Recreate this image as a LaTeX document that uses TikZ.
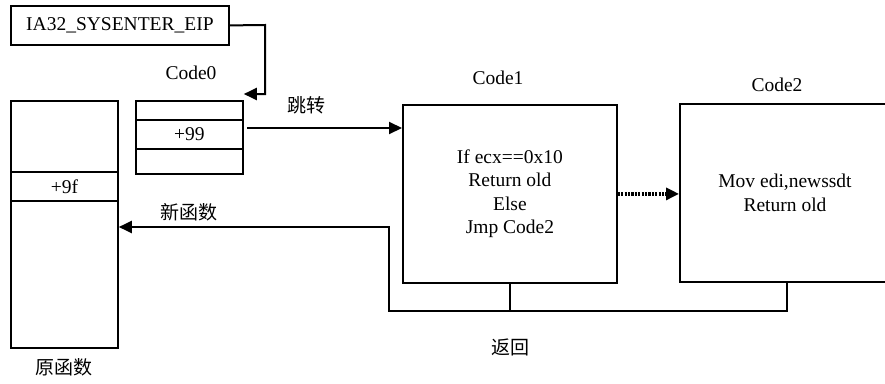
\documentclass[tikz,border=0pt]{standalone}
\usepackage{fontspec}
\setmainfont{Liberation Serif}
\newfontfamily\cjk{Noto Sans CJK SC}
\usetikzlibrary{arrows.meta,calc}
\tikzset{
  box/.style={draw, line width=1.8pt, anchor=north west, inner sep=0pt,
    minimum width=#1},
  lbl/.style={font=\fontsize{19.5}{23.5}\selectfont, inner sep=0pt},
  cjklbl/.style={font=\fontsize{19}{22}\selectfont\cjk, inner sep=0pt},
  tip/.style={-{Triangle[length=13pt,width=12pt]}},
  link/.style={line width=2pt, tip},
  plain/.style={line width=2pt},
}
\begin{document}
\begin{tikzpicture}[x=1pt,y=-1pt]
\useasboundingbox (0,0) rectangle (885,383);

% register holding the entry address
\node[box=218pt, minimum height=39pt, lbl] (msr) at (10,5) {IA32\_SYSENTER\_EIP};

% Code0 stub
\node[lbl] (c0lbl) at (191,73) {Code0};
\node[box=107pt, minimum height=19pt] (c0a) at (135,100) {};
\node[box=107pt, minimum height=29pt, lbl] (c0b) at (135,119) {+99};
\node[box=107pt, minimum height=25pt] (c0c) at (135,148) {};

% original function
\node[box=107pt, minimum height=71pt] (oa) at (10,100) {};
\node[box=107pt, minimum height=29pt, lbl] (ob) at (10,171) {+9f};
\node[box=107pt, minimum height=147pt] (oc) at (10,200) {};
\node[cjklbl] (olbl) at (64,367) {原函数};

% Code1 and Code2
\node[lbl] (c1lbl) at (498,78) {Code1};
\node[box=214pt, minimum height=178pt, lbl, align=center] (code1) at (402,104)
  {If ecx==0x10\\Return old\\Else\\Jmp Code2};
\node[lbl] (c2lbl) at (777,85) {Code2};
\node[box=215pt, minimum height=178pt] (code2) at (679,103) {};
\node[lbl, align=center] (code2txt) at (785,193) {Mov edi,newssdt\\Return old};

% connectors
\coordinate (msrturn) at (265,25);
\coordinate (c0in) at ($(c0a.north east)+(0,-6)$);
\draw[link] (msr.east) -- (msrturn) |- (c0in);

\coordinate (jmpfrom) at (247,128);
\draw[link] (jmpfrom) -- (jmpfrom -| code1.west);
\node[cjklbl] (jmplbl) at (306,105) {跳转};

\draw[line width=3.2pt, dash pattern=on 2.2pt off 1.2pt, tip]
  (code1.east) -- (code1.east -| code2.west);

\coordinate (ret) at (389,311);
\coordinate (back) at (389,227);
\draw[link] (code2.south) |- (ret) -- (back) -- (back -| oc.east);
\draw[plain] (code1.south) -- (code1.south |- ret);
\node[cjklbl] (newlbl) at (189,212) {新函数};
\node[cjklbl] (retlbl) at (510,347) {返回};
\end{tikzpicture}
\end{document}
